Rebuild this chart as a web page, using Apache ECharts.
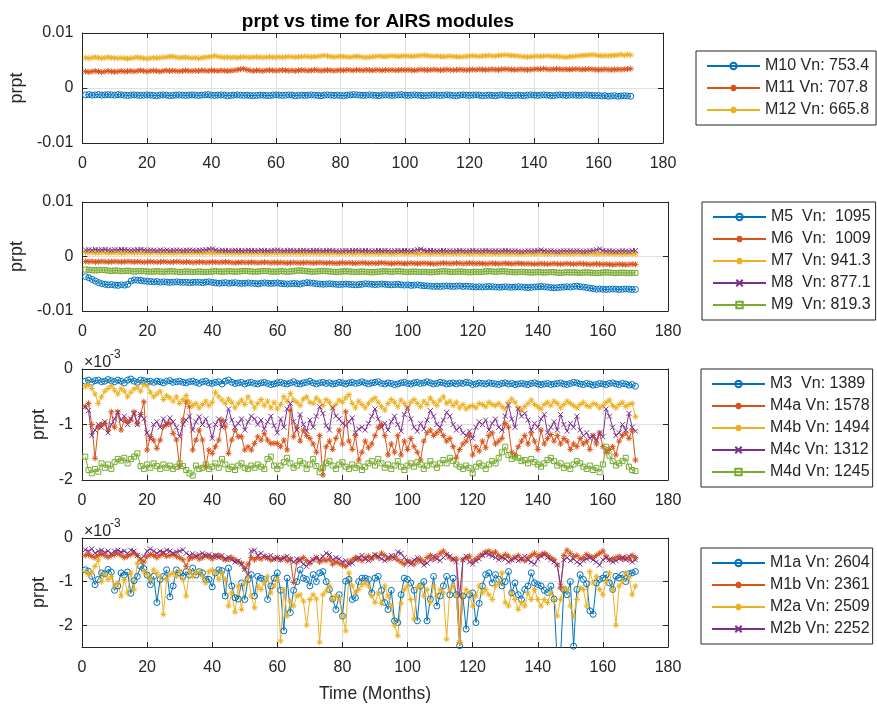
<!DOCTYPE html>
<html>
<head>
<meta charset="utf-8">
<script src="https://cdn.jsdelivr.net/npm/echarts@6/dist/echarts.min.js"></script>
<style>html,body{margin:0;padding:0;background:#fff}#c{width:877px;height:704px}</style>
</head>
<body>
<div id="c"></div>
<script>
// ---- data (values in units of 1e-3 prpt), months 1..170 ----
const months = Array.from({length: 170}, (_, i) => i + 1);
const xTicks = [0, 20, 40, 60, 80, 100, 120, 140, 160, 180];

const m10 = [-1.25,-1.2,-1.3,-1.25,-1.2,-1.3,-1.25,-1.2,-1.25,-1.3,
-1.2,-1.25,-1.3,-1.35,-1.3,-1.25,-1.3,-1.35,-1.3,-1.25,
-1.3,-1.35,-1.4,-1.3,-1.25,-1.3,-1.4,-1.35,-1.3,-1.25,
-1.3,-1.35,-1.3,-1.25,-1.3,-1.35,-1.3,-1.25,-1.2,-1.3,
-1.35,-1.3,-1.25,-1.3,-1.4,-1.35,-1.3,-1.25,-1.3,-1.35,
-1.3,-1.35,-1.4,-1.35,-1.3,-1.3,-1.35,-1.4,-1.3,-1.25,
-1.3,-1.35,-1.3,-1.25,-1.3,-1.4,-1.35,-1.3,-1.35,-1.3,
-1.25,-1.3,-1.35,-1.4,-1.3,-1.25,-1.3,-1.35,-1.3,-1.35,
-1.4,-1.3,-1.25,-1.2,-1.25,-1.3,-1.35,-1.3,-1.25,-1.3,
-1.35,-1.4,-1.3,-1.25,-1.3,-1.35,-1.3,-1.25,-1.2,-1.3,
-1.35,-1.3,-1.25,-1.3,-1.35,-1.4,-1.35,-1.3,-1.25,-1.3,
-1.35,-1.3,-1.25,-1.3,-1.35,-1.4,-1.3,-1.25,-1.3,-1.35,
-1.3,-1.25,-1.3,-1.4,-1.35,-1.3,-1.35,-1.4,-1.3,-1.25,
-1.3,-1.35,-1.4,-1.35,-1.3,-1.35,-1.4,-1.3,-1.25,-1.3,
-1.35,-1.3,-1.25,-1.3,-1.35,-1.4,-1.3,-1.25,-1.3,-1.35,
-1.3,-1.25,-1.3,-1.35,-1.3,-1.25,-1.3,-1.35,-1.4,-1.35,
-1.45,-1.4,-1.5,-1.45,-1.4,-1.5,-1.45,-1.4,-1.45,-1.5];
const m11 = [3.0,2.9,3.0,3.1,3.0,2.9,3.0,3.1,3.0,2.95,
3.0,3.1,3.0,3.05,3.1,3.0,3.1,3.2,3.1,3.0,
3.1,3.15,3.1,3.0,3.1,3.2,3.1,3.15,3.1,3.05,
3.1,3.2,3.1,3.1,3.15,3.1,3.2,3.15,3.1,3.2,
3.15,3.1,3.2,3.15,3.1,3.15,3.2,3.3,3.4,3.5,
3.3,3.2,3.1,3.2,3.15,3.1,3.2,3.25,3.2,3.15,
3.2,3.25,3.2,3.15,3.2,3.1,3.2,3.25,3.2,3.15,
3.2,3.3,3.2,3.15,3.2,3.25,3.2,3.15,3.2,3.25,
3.2,3.3,3.25,3.2,3.3,3.25,3.2,3.3,3.25,3.2,
3.3,3.25,3.2,3.3,3.25,3.3,3.2,3.25,3.3,3.25,
3.3,3.25,3.2,3.3,3.35,3.3,3.25,3.3,3.35,3.3,
3.25,3.3,3.35,3.3,3.25,3.3,3.35,3.3,3.25,3.3,
3.35,3.3,3.4,3.35,3.3,3.35,3.4,3.35,3.3,3.4,
3.45,3.4,3.35,3.3,3.35,3.4,3.35,3.3,3.35,3.4,
3.45,3.4,3.5,3.4,3.35,3.4,3.45,3.4,3.35,3.4,
3.35,3.4,3.45,3.4,3.35,3.4,3.45,3.4,3.35,3.3,
3.35,3.4,3.35,3.3,3.35,3.4,3.35,3.4,3.45,3.5];
const m12 = [5.5,5.4,5.5,5.6,5.5,5.4,5.5,5.6,5.5,5.45,
5.4,5.5,5.4,5.35,5.4,5.5,5.6,5.5,5.4,5.35,
5.4,5.5,5.45,5.5,5.55,5.6,5.7,5.75,5.6,5.5,
5.55,5.6,5.5,5.45,5.5,5.4,5.5,5.6,5.65,5.7,
5.85,5.7,5.6,5.55,5.6,5.55,5.6,5.5,5.6,5.65,
5.6,5.55,5.6,5.65,5.6,5.55,5.6,5.65,5.6,5.6,
5.65,5.6,5.65,5.7,5.65,5.6,5.65,5.7,5.75,5.7,
5.65,5.7,5.75,5.8,5.9,5.8,5.7,5.65,5.7,5.75,
5.7,5.65,5.6,5.7,5.75,5.7,5.6,5.55,5.6,5.7,
5.75,5.8,5.75,5.7,5.8,5.85,5.8,5.75,5.8,5.85,
5.8,5.75,5.8,5.85,5.9,5.95,5.85,5.8,5.75,5.8,
5.75,5.7,5.75,5.8,5.75,5.7,5.65,5.7,5.75,5.8,
5.85,5.8,5.75,5.8,5.85,5.9,5.85,5.8,5.9,5.95,
6.0,5.95,5.9,5.85,5.8,5.75,5.7,5.65,5.7,5.75,
5.8,5.75,5.8,5.85,5.8,5.75,5.8,5.7,5.65,5.6,
5.7,5.75,5.8,5.85,5.9,5.95,6.0,6.05,6.0,5.9,
5.85,5.9,5.85,5.9,5.95,6.0,6.1,5.95,6.05,6.0];

const m5 = [-3.7,-3.9,-4.2,-4.5,-4.8,-5.0,-5.1,-5.2,-5.15,-5.25,
-5.3,-5.2,-5.25,-5.1,-4.5,-4.3,-4.35,-4.4,-4.5,-4.55,
-4.6,-4.65,-4.6,-4.7,-4.65,-4.7,-4.75,-4.7,-4.65,-4.7,
-4.75,-4.7,-4.8,-4.75,-4.7,-4.75,-4.8,-4.7,-4.65,-4.75,
-4.85,-4.9,-4.85,-4.8,-4.9,-4.85,-4.8,-4.9,-4.95,-4.9,
-4.85,-4.9,-4.95,-5.0,-4.9,-4.85,-4.9,-4.95,-4.9,-4.85,
-4.95,-5.0,-5.05,-5.0,-4.95,-5.0,-5.05,-4.9,-4.8,-4.85,
-4.9,-5.0,-5.05,-5.1,-5.05,-5.0,-5.05,-5.1,-5.15,-5.1,
-5.05,-5.1,-5.15,-5.2,-5.15,-5.1,-5.0,-5.05,-5.1,-5.15,
-5.1,-5.05,-5.1,-5.15,-5.2,-5.15,-5.1,-5.2,-5.25,-5.2,
-5.3,-5.25,-5.2,-5.3,-5.35,-5.4,-5.45,-5.5,-5.45,-5.5,
-5.45,-5.4,-5.45,-5.5,-5.45,-5.4,-5.5,-5.45,-5.5,-5.55,
-5.6,-5.55,-5.6,-5.55,-5.5,-5.55,-5.6,-5.65,-5.6,-5.55,
-5.6,-5.65,-5.6,-5.55,-5.6,-5.65,-5.7,-5.65,-5.6,-5.55,
-5.5,-5.55,-5.6,-5.7,-5.75,-5.7,-5.65,-5.6,-5.55,-5.6,
-5.5,-5.45,-5.55,-5.6,-5.7,-5.8,-5.9,-6.0,-5.95,-6.0,
-6.05,-6.0,-5.95,-6.0,-6.05,-6.0,-5.95,-6.0,-6.05,-6.05];
const m6 = [-0.9,-0.95,-0.9,-1.0,-0.95,-0.9,-0.95,-1.0,-0.95,-0.9,
-0.95,-1.0,-0.95,-0.9,-0.95,-1.0,-0.95,-1.0,-1.05,-1.0,
-0.95,-1.0,-1.05,-1.0,-0.95,-1.0,-1.05,-1.0,-0.95,-1.0,
-1.05,-1.0,-1.05,-1.1,-1.05,-1.0,-1.05,-1.1,-1.05,-1.0,
-1.05,-1.1,-1.05,-1.0,-1.05,-1.1,-1.15,-1.1,-1.05,-1.1,
-1.1,-1.05,-1.1,-1.15,-1.1,-1.05,-1.1,-1.15,-1.1,-1.15,
-1.1,-1.15,-1.2,-1.15,-1.1,-1.15,-1.2,-1.15,-1.1,-1.15,
-1.2,-1.15,-1.1,-1.15,-1.2,-1.15,-1.2,-1.25,-1.2,-1.15,
-1.2,-1.15,-1.2,-1.25,-1.2,-1.15,-1.2,-1.25,-1.2,-1.25,
-1.2,-1.15,-1.2,-1.25,-1.3,-1.25,-1.2,-1.25,-1.3,-1.25,
-1.2,-1.25,-1.3,-1.25,-1.2,-1.25,-1.3,-1.35,-1.3,-1.25,
-1.2,-1.25,-1.3,-1.25,-1.2,-1.25,-1.3,-1.25,-1.2,-1.25,
-1.3,-1.25,-1.3,-1.35,-1.3,-1.25,-1.3,-1.35,-1.3,-1.25,
-1.3,-1.35,-1.3,-1.25,-1.3,-1.35,-1.3,-1.35,-1.4,-1.35,
-1.3,-1.35,-1.4,-1.35,-1.3,-1.35,-1.4,-1.35,-1.3,-1.35,
-1.4,-1.35,-1.3,-1.35,-1.4,-1.45,-1.4,-1.35,-1.4,-1.45,
-1.4,-1.45,-1.5,-1.45,-1.4,-1.45,-1.5,-1.45,-1.4,-1.45];
const m7 = [0.7,0.75,0.72,0.68,0.7,0.74,0.7,0.66,0.7,0.72,
0.7,0.66,0.7,0.74,0.7,0.68,0.72,0.7,0.66,0.7,
0.68,0.72,0.7,0.66,0.68,0.7,0.66,0.64,0.68,0.7,
0.66,0.68,0.7,0.65,0.68,0.7,0.66,0.68,0.72,0.7,
0.66,0.64,0.68,0.66,0.62,0.66,0.68,0.64,0.66,0.62,
0.64,0.66,0.62,0.64,0.66,0.62,0.6,0.64,0.66,0.62,
0.64,0.6,0.62,0.66,0.62,0.6,0.64,0.62,0.6,0.62,
0.64,0.6,0.58,0.62,0.6,0.62,0.64,0.6,0.58,0.62,
0.6,0.62,0.58,0.6,0.62,0.6,0.58,0.6,0.62,0.58,
0.6,0.58,0.62,0.6,0.56,0.58,0.6,0.62,0.58,0.56,
0.58,0.6,0.56,0.58,0.6,0.58,0.56,0.6,0.58,0.56,
0.58,0.6,0.56,0.54,0.58,0.56,0.6,0.58,0.54,0.56,
0.58,0.56,0.54,0.56,0.58,0.55,0.56,0.54,0.58,0.56,
0.55,0.56,0.54,0.52,0.56,0.54,0.55,0.56,0.52,0.54,
0.56,0.54,0.52,0.55,0.54,0.52,0.56,0.54,0.52,0.54,
0.52,0.55,0.54,0.52,0.5,0.54,0.52,0.5,0.54,0.52,
0.5,0.52,0.54,0.5,0.52,0.5,0.48,0.52,0.5,0.5];
const m8 = [1.2,1.25,1.15,1.3,1.2,1.25,1.3,1.2,1.15,1.25,
1.2,1.3,1.25,1.2,1.15,1.2,1.25,1.3,1.2,1.15,
1.2,1.15,1.1,1.2,1.15,1.2,1.1,1.15,1.2,1.15,
1.1,1.15,1.2,1.15,1.1,1.15,1.2,1.25,1.35,1.4,
1.2,1.1,1.15,1.1,1.05,1.1,1.15,1.1,1.05,1.1,
1.15,1.1,1.05,1.1,1.15,1.1,1.05,1.1,1.15,1.2,
1.1,1.05,1.1,1.15,1.1,1.05,1.1,1.15,1.1,1.05,
1.1,1.15,1.1,1.05,1.1,1.15,1.1,1.05,1.0,1.05,
1.1,1.05,1.1,1.15,1.1,1.05,1.1,1.05,1.0,1.05,
1.1,1.05,1.1,1.05,1.0,1.05,1.1,1.05,1.1,1.05,
1.0,1.1,1.25,1.35,1.15,1.05,1.1,1.05,1.0,1.05,
1.1,1.0,1.05,1.0,1.05,1.1,1.05,1.0,1.05,1.1,
1.05,1.0,1.05,1.1,1.05,1.0,1.05,1.0,1.05,1.1,
1.05,1.0,1.05,1.0,0.95,1.0,1.05,1.0,1.05,1.1,
1.2,1.05,1.0,1.05,1.0,0.95,1.0,1.05,1.0,1.05,
1.0,1.05,1.0,0.95,1.0,1.05,1.1,1.25,1.4,1.1,
1.0,1.05,1.0,0.95,1.0,1.05,1.0,0.95,1.05,1.1];
const m9 = [-2.4,-2.45,-2.5,-2.55,-2.5,-2.45,-2.5,-2.6,-2.65,-2.55,
-2.6,-2.7,-2.65,-2.6,-2.7,-2.75,-2.7,-2.65,-2.7,-2.75,
-2.8,-2.75,-2.7,-2.75,-2.8,-2.75,-2.7,-2.75,-2.8,-2.85,
-2.8,-2.75,-2.8,-2.85,-2.8,-2.75,-2.8,-2.85,-2.8,-2.75,
-2.7,-2.75,-2.8,-2.75,-2.7,-2.75,-2.8,-2.75,-2.7,-2.65,
-2.7,-2.75,-2.8,-2.75,-2.7,-2.65,-2.7,-2.75,-2.8,-2.75,
-2.7,-2.75,-2.8,-2.75,-2.7,-2.6,-2.55,-2.65,-2.7,-2.75,
-2.8,-2.75,-2.7,-2.65,-2.7,-2.75,-2.8,-2.85,-2.8,-2.75,
-2.7,-2.75,-2.8,-2.85,-2.8,-2.75,-2.8,-2.85,-2.9,-2.85,
-2.8,-2.75,-2.7,-2.75,-2.8,-2.75,-2.7,-2.75,-2.8,-2.85,
-2.8,-2.75,-2.8,-2.85,-2.8,-2.85,-2.9,-2.85,-2.8,-2.75,
-2.7,-2.75,-2.8,-2.85,-2.8,-2.75,-2.8,-2.85,-2.9,-2.85,
-2.8,-2.85,-2.8,-2.75,-2.7,-2.75,-2.8,-2.75,-2.7,-2.75,
-2.8,-2.85,-2.9,-2.85,-2.8,-2.85,-2.9,-2.95,-2.9,-2.85,
-2.9,-2.95,-2.9,-2.85,-2.9,-2.95,-3.0,-2.95,-2.9,-2.95,
-2.9,-2.95,-3.0,-2.95,-2.9,-2.95,-3.0,-3.05,-3.0,-2.95,
-2.9,-2.95,-3.0,-3.05,-3.0,-2.95,-3.0,-3.05,-3.0,-3.0];

const m3 = [-0.22,-0.2,-0.24,-0.21,-0.2,-0.23,-0.22,-0.19,-0.21,-0.23,
-0.2,-0.22,-0.25,-0.2,-0.18,-0.22,-0.24,-0.2,-0.21,-0.23,
-0.22,-0.24,-0.22,-0.23,-0.25,-0.22,-0.21,-0.24,-0.23,-0.22,
-0.24,-0.25,-0.23,-0.22,-0.24,-0.26,-0.23,-0.22,-0.25,-0.26,
-0.24,-0.23,-0.27,-0.22,-0.2,-0.24,-0.26,-0.25,-0.24,-0.27,
-0.25,-0.24,-0.26,-0.27,-0.25,-0.24,-0.26,-0.28,-0.27,-0.25,
-0.24,-0.26,-0.27,-0.25,-0.23,-0.26,-0.27,-0.25,-0.24,-0.22,
-0.25,-0.27,-0.25,-0.24,-0.26,-0.25,-0.27,-0.26,-0.24,-0.25,
-0.27,-0.25,-0.24,-0.26,-0.25,-0.23,-0.25,-0.27,-0.25,-0.24,
-0.23,-0.26,-0.27,-0.25,-0.26,-0.28,-0.27,-0.25,-0.24,-0.26,
-0.27,-0.25,-0.24,-0.26,-0.25,-0.23,-0.25,-0.27,-0.26,-0.24,
-0.25,-0.27,-0.26,-0.25,-0.27,-0.25,-0.26,-0.24,-0.25,-0.28,
-0.27,-0.25,-0.26,-0.27,-0.25,-0.26,-0.27,-0.28,-0.26,-0.25,
-0.27,-0.26,-0.28,-0.27,-0.26,-0.27,-0.28,-0.26,-0.25,-0.27,
-0.28,-0.27,-0.26,-0.28,-0.27,-0.26,-0.25,-0.27,-0.28,-0.26,
-0.24,-0.25,-0.27,-0.28,-0.26,-0.27,-0.29,-0.28,-0.26,-0.27,
-0.28,-0.26,-0.25,-0.27,-0.28,-0.26,-0.27,-0.29,-0.28,-0.31];
const m4a = [-0.68,-0.62,-1.0,-1.61,-1.05,-1.0,-0.98,-1.1,-0.77,-1.05,
-0.77,-1.1,-0.92,-0.95,-0.92,-0.77,-0.98,-0.82,-0.59,-1.46,
-1.22,-1.28,-1.43,-1.28,-1.04,-1.0,-0.98,-1.16,-1.28,-1.76,
-0.92,-0.59,-0.68,-1.46,-1.28,-1.1,-1.28,-1.76,-1.46,-1.52,
-1.4,-1.28,-0.92,-1.04,-1.52,-1.28,-1.1,-1.22,-1.22,-1.46,
-1.4,-1.46,-1.34,-1.22,-1.28,-1.16,-1.28,-1.34,-1.34,-1.34,
-1.4,-1.28,-1.46,-0.74,-1.22,-1.05,-1.3,-1.1,-1.2,-1.25,
-1.35,-1.5,-1.2,-1.91,-1.4,-1.3,-1.45,-1.25,-1.1,-1.35,
-0.77,-1.3,-1.45,-1.2,-1.64,-1.5,-1.3,-1.42,-1.35,-1.2,
-1.05,-1.0,-1.2,-1.55,-1.35,-1.5,-1.2,-1.55,-1.3,-1.45,
-1.25,-1.4,-1.5,-1.64,-1.3,-1.15,-1.1,-1.2,-1.15,-1.1,
-1.2,-1.3,-1.25,-1.4,-1.6,-1.45,-1.35,-1.3,-1.2,-1.55,
-1.4,-1.48,-1.3,-1.42,-1.2,-1.15,-1.35,-1.3,-1.25,-0.98,
-1.05,-1.5,-1.55,-1.4,-1.3,-1.2,-1.35,-1.15,-1.3,-1.45,
-1.1,-1.35,-1.25,-1.18,-1.3,-1.2,-1.35,-1.25,-1.3,-1.45,
-1.35,-1.4,-1.25,-1.35,-1.3,-1.45,-1.2,-1.35,-1.15,-1.4,
-1.5,-1.45,-1.4,-1.55,-1.3,-1.2,-1.15,-1.25,-1.1,-1.64];
const m4b = [-0.32,-0.28,-0.35,-0.45,-0.62,-0.5,-0.4,-0.35,-0.3,-0.38,
-0.45,-0.35,-0.4,-0.5,-0.42,-0.36,-0.33,-0.4,-0.28,-0.3,
-0.42,-0.5,-0.45,-0.4,-0.55,-0.48,-0.52,-0.58,-0.5,-0.62,
-0.55,-0.48,-0.6,-0.66,-0.62,-0.7,-0.64,-0.58,-0.66,-0.6,
-0.42,-0.5,-0.56,-0.62,-0.54,-0.6,-0.7,-0.62,-0.56,-0.64,
-0.5,-0.6,-0.7,-0.62,-0.55,-0.66,-0.58,-0.7,-0.6,-0.72,
-0.64,-0.5,-0.58,-0.44,-0.56,-0.6,-0.66,-0.54,-0.5,-0.6,
-0.62,-0.52,-0.58,-0.66,-0.55,-0.6,-0.7,-0.64,-0.56,-0.6,
-0.52,-0.46,-0.62,-0.7,-0.58,-0.64,-0.7,-0.62,-0.56,-0.52,
-0.6,-0.68,-0.74,-0.62,-0.55,-0.6,-0.68,-0.56,-0.62,-0.7,
-0.6,-0.55,-0.62,-0.68,-0.58,-0.64,-0.52,-0.6,-0.66,-0.56,
-0.5,-0.62,-0.58,-0.66,-0.6,-0.7,-0.64,-0.72,-0.68,-0.66,
-0.7,-0.62,-0.64,-0.68,-0.6,-0.64,-0.66,-0.62,-0.68,-0.72,
-0.6,-0.54,-0.6,-0.7,-0.74,-0.68,-0.62,-0.56,-0.64,-0.68,
-0.72,-0.64,-0.6,-0.66,-0.58,-0.62,-0.7,-0.64,-0.58,-0.62,
-0.66,-0.7,-0.64,-0.6,-0.66,-0.68,-0.62,-0.64,-0.7,-0.66,
-0.6,-0.56,-0.66,-0.7,-0.64,-0.6,-0.68,-0.64,-0.62,-0.86];
const m4c = [-0.68,-0.75,-1.2,-1.1,-1.0,-1.05,-0.95,-1.15,-1.0,-0.9,
-0.78,-0.92,-0.85,-1.0,-0.9,-0.8,-1.0,-0.82,-0.9,-1.15,
-1.25,-1.0,-0.95,-1.05,-0.9,-1.0,-0.88,-0.95,-1.05,-1.22,
-1.0,-0.92,-0.85,-1.1,-0.95,-0.86,-1.0,-0.9,-1.02,-1.25,
-1.0,-0.9,-1.05,-0.95,-0.72,-0.92,-1.05,-0.98,-0.9,-1.1,
-0.95,-0.85,-0.9,-1.0,-0.92,-1.08,-0.95,-0.85,-1.02,-1.15,
-0.9,-1.05,-0.72,-0.62,-0.95,-1.1,-0.82,-1.0,-1.12,-0.92,
-1.05,-0.85,-0.68,-0.8,-1.02,-1.1,-0.7,-0.85,-0.9,-0.98,
-1.02,-0.95,-0.88,-1.15,-1.08,-1.05,-1.1,-0.98,-0.85,-0.72,
-0.9,-1.05,-0.98,-1.1,-0.95,-0.85,-1.0,-1.12,-0.82,-0.7,
-0.9,-1.05,-1.12,-0.98,-1.08,-0.92,-0.75,-0.85,-1.0,-1.05,
-0.92,-0.78,-0.85,-1.0,-1.1,-1.05,-1.15,-1.2,-1.12,-1.25,
-1.05,-0.95,-1.0,-0.92,-1.1,-0.98,-0.9,-1.05,-1.1,-0.85,
-0.65,-0.9,-1.05,-0.72,-0.85,-0.8,-0.92,-1.1,-0.98,-1.05,
-0.9,-0.82,-1.15,-1.05,-0.95,-1.1,-0.82,-1.0,-1.12,-0.98,
-1.05,-0.85,-1.1,-1.2,-1.15,-1.25,-1.2,-1.28,-1.15,-1.22,
-0.72,-0.85,-1.05,-1.2,-1.15,-1.0,-1.1,-0.8,-1.05,-1.12];
const m4d = [-1.58,-1.82,-1.88,-1.8,-1.85,-1.7,-1.78,-1.72,-1.8,-1.68,
-1.62,-1.65,-1.6,-1.7,-1.62,-1.58,-1.52,-1.75,-1.8,-1.72,
-1.78,-1.7,-1.75,-1.8,-1.72,-1.78,-1.74,-1.8,-1.76,-1.7,
-1.75,-1.82,-1.88,-1.92,-1.74,-1.8,-1.78,-1.72,-1.8,-1.76,
-1.7,-1.78,-1.62,-1.72,-1.8,-1.76,-1.82,-1.74,-1.7,-1.78,
-1.8,-1.74,-1.78,-1.72,-1.76,-1.8,-1.62,-1.58,-1.74,-1.8,
-1.74,-1.68,-1.6,-1.7,-1.78,-1.74,-1.66,-1.7,-1.8,-1.72,
-1.62,-1.75,-1.86,-1.78,-1.7,-1.66,-1.74,-1.8,-1.72,-1.68,
-1.76,-1.8,-1.72,-1.78,-1.74,-1.82,-1.76,-1.7,-1.66,-1.74,
-1.62,-1.7,-1.78,-1.72,-1.8,-1.74,-1.66,-1.76,-1.82,-1.74,
-1.7,-1.76,-1.68,-1.72,-1.8,-1.74,-1.66,-1.72,-1.78,-1.7,
-1.64,-1.7,-1.6,-1.66,-1.72,-1.76,-1.8,-1.74,-1.78,-1.88,
-1.76,-1.7,-1.74,-1.8,-1.72,-1.66,-1.7,-1.6,-1.5,-1.4,
-1.55,-1.62,-1.58,-1.6,-1.66,-1.64,-1.7,-1.62,-1.68,-1.72,
-1.76,-1.7,-1.64,-1.6,-1.66,-1.74,-1.7,-1.78,-1.74,-1.8,
-1.72,-1.66,-1.7,-1.76,-1.8,-1.74,-1.82,-1.78,-1.86,-1.72,
-1.4,-1.56,-1.66,-1.74,-1.7,-1.66,-1.6,-1.76,-1.82,-1.84];

const m1a = [-0.73,-0.76,-0.88,-1.07,-0.95,-0.8,-0.82,-0.72,-0.78,-1.2,
-1.1,-0.8,-0.85,-0.78,-1.27,-0.98,-0.88,-0.65,-0.7,-0.85,
-1.07,-0.88,-1.48,-0.95,-0.88,-0.73,-1.35,-1.1,-0.73,-0.8,
-0.88,-0.77,-0.85,-0.69,-0.85,-0.77,-0.8,-0.95,-0.95,-1.12,
-0.8,-0.73,-0.75,-1.33,-0.69,-1.1,-1.37,-1.4,-1.03,-1.41,
-0.95,-0.84,-1.33,-0.88,-0.92,-0.95,-1.41,-1.1,-0.92,-0.8,
-1.2,-2.13,-0.92,-1.71,-1.2,-1.0,-0.73,-0.92,-0.95,-1.1,
-0.84,-1.0,-0.8,-0.77,-1.0,-1.18,-1.4,-1.64,-1.3,-1.79,
-0.99,-0.95,-1.41,-1.37,-1.0,-0.92,-0.92,-0.95,-1.26,-0.92,
-0.88,-1.2,-1.48,-1.64,-1.2,-1.9,-1.94,-1.3,-0.92,-0.95,
-1.03,-1.2,-1.9,-1.1,-1.0,-1.9,-1.4,-0.88,-1.56,-1.33,
-1.1,-0.88,-1.3,-0.92,-1.3,-2.47,-1.33,-2.09,-1.3,-1.26,
-1.94,-1.5,-1.1,-0.84,-0.8,-1.03,-0.84,-0.95,-1.1,-1.0,
-0.77,-1.26,-1.03,-1.3,-1.41,-1.18,-1.1,-0.8,-1.03,-1.07,
-1.1,-1.2,-1.25,-1.1,-1.4,-2.9,-2.7,-1.18,-1.3,-1.0,
-2.48,-1.18,-0.84,-0.95,-1.05,-1.67,-1.75,-1.03,-0.95,-0.92,
-0.84,-1.03,-1.18,-0.88,-0.92,-0.84,-1.0,-0.82,-0.8,-0.77];
const m1b = [-0.4,-0.38,-0.42,-0.45,-0.4,-0.36,-0.4,-0.44,-0.4,-0.38,
-0.35,-0.4,-0.45,-0.42,-0.38,-0.35,-0.4,-0.5,-0.55,-0.42,
-0.38,-0.4,-0.45,-0.4,-0.36,-0.42,-0.4,-0.38,-0.42,-0.45,
-0.5,-0.65,-0.48,-0.45,-0.42,-0.48,-0.45,-0.4,-0.44,-0.48,
-0.42,-0.4,-0.45,-0.5,-0.48,-0.45,-0.5,-0.55,-0.58,-0.7,
-0.6,-0.45,-0.5,-0.45,-0.48,-0.42,-0.46,-0.5,-0.48,-0.45,
-0.5,-0.45,-0.52,-0.48,-1.02,-0.55,-0.5,-0.45,-0.52,-0.58,
-0.5,-0.45,-0.55,-0.5,-0.52,-0.48,-0.6,-0.55,-0.58,-0.62,
-0.65,-0.55,-0.5,-0.45,-0.48,-0.52,-0.45,-0.42,-0.48,-0.4,
-0.45,-0.35,-0.4,-0.48,-0.45,-0.42,-0.5,-0.55,-0.6,-0.52,
-0.55,-0.6,-0.52,-0.48,-0.55,-0.45,-0.4,-0.48,-0.42,-0.35,
-0.3,-0.38,-0.45,-0.5,-0.48,-2.4,-0.5,-0.45,-0.42,-0.55,
-0.48,-0.42,-0.38,-0.32,-0.3,-0.35,-0.32,-0.4,-0.45,-0.38,
-0.42,-0.5,-0.45,-0.4,-0.48,-0.52,-0.45,-0.4,-0.35,-0.42,
-0.38,-0.35,-0.4,-0.45,-0.5,-0.62,-1.15,-0.4,-0.28,-0.35,
-0.42,-0.4,-0.48,-0.45,-0.38,-0.42,-0.45,-0.4,-0.35,-0.3,
-0.42,-0.5,-0.48,-0.45,-0.42,-0.48,-0.45,-0.5,-0.4,-0.45];
const m2a = [-0.77,-0.84,-0.8,-0.65,-0.5,-1.0,-0.84,-0.95,-0.88,-1.1,
-1.03,-1.33,-0.95,-1.26,-0.8,-1.18,-0.58,-0.48,-0.77,-0.84,
-0.95,-0.73,-0.8,-0.88,-1.75,-0.95,-0.84,-0.8,-0.88,-0.77,
-0.95,-1.33,-0.77,-0.88,-0.8,-0.77,-0.88,-1.03,-0.77,-0.73,
-0.8,-0.95,-0.8,-0.95,-1.56,-1.26,-1.7,-1.1,-1.64,-1.03,
-0.88,-1.33,-1.6,-1.1,-1.18,-1.03,-0.88,-1.26,-1.1,-0.95,
-2.36,-1.18,-1.79,-1.45,-1.56,-1.33,-1.3,-1.45,-2.0,-1.41,
-1.3,-1.4,-2.39,-1.3,-1.22,-1.1,-1.41,-1.33,-1.4,-1.79,
-2.13,-0.8,-1.1,-1.26,-1.18,-1.07,-1.03,-1.1,-1.33,-1.48,
-1.26,-1.5,-1.1,-1.33,-1.56,-2.0,-2.24,-1.5,-1.18,-1.1,
-1.41,-1.86,-1.14,-1.1,-1.33,-1.18,-1.48,-1.1,-1.33,-1.18,
-1.26,-2.32,-1.18,-1.1,-1.33,-2.39,-1.33,-1.18,-1.26,-1.56,
-1.33,-1.1,-1.26,-1.18,-1.3,-1.41,-1.1,-1.03,-0.8,-1.48,
-1.56,-1.26,-1.41,-1.64,-1.48,-1.56,-1.26,-1.41,-1.18,-1.41,
-1.56,-1.41,-1.48,-1.26,-1.41,-1.79,-1.41,-1.14,-1.18,-1.56,
-1.79,-1.41,-1.14,-1.18,-1.56,-0.77,-1.03,-0.88,-1.18,-1.3,
-1.0,-0.8,-1.18,-2.0,-1.1,-1.0,-0.8,-0.9,-1.3,-1.1];
const m2b = [-0.27,-0.3,-0.25,-0.35,-0.3,-0.28,-0.33,-0.3,-0.36,-0.3,
-0.28,-0.32,-0.3,-0.35,-0.28,-0.3,-0.4,-0.48,-0.42,-0.3,
-0.25,-0.3,-0.35,-0.3,-0.33,-0.28,-0.3,-0.35,-0.32,-0.3,
-0.27,-0.35,-0.4,-0.36,-0.42,-0.38,-0.35,-0.4,-0.38,-0.42,
-0.4,-0.45,-0.4,-0.48,-0.44,-0.5,-0.55,-0.52,-0.6,-0.72,
-0.84,-0.3,-0.28,-0.4,-0.35,-0.42,-0.45,-0.4,-0.48,-0.45,
-0.5,-0.46,-0.42,-0.5,-0.55,-0.48,-0.5,-0.6,-0.65,-0.55,
-0.5,-0.45,-0.5,-0.42,-0.35,-0.38,-0.5,-0.45,-0.48,-0.55,
-0.52,-0.6,-0.58,-0.5,-0.45,-0.4,-0.48,-0.52,-0.45,-0.38,
-0.42,-0.48,-0.52,-0.45,-0.4,-0.48,-0.32,-0.35,-0.45,-0.55,
-0.6,-0.5,-0.45,-0.55,-0.62,-0.58,-0.5,-0.42,-0.48,-0.52,
-0.45,-0.38,-0.42,-0.48,-0.55,-1.33,-0.5,-0.42,-0.55,-0.6,
-0.52,-0.48,-0.4,-0.35,-0.38,-0.42,-0.45,-0.5,-0.44,-0.48,
-0.55,-0.5,-0.45,-0.52,-0.48,-0.42,-0.5,-0.55,-0.6,-0.48,
-0.42,-0.38,-0.45,-0.5,-0.55,-0.62,-1.1,-0.5,-0.45,-0.52,
-0.48,-0.55,-0.6,-0.52,-0.48,-0.45,-0.5,-0.55,-0.62,-0.5,
-0.45,-0.5,-0.55,-0.52,-0.48,-0.45,-0.5,-0.42,-0.55,-0.5];

// ---- styling ----
const FONT = '"Liberation Sans", Arial, Helvetica, sans-serif';
const TXT = '#262626';
const GRIDC = '#e0e0e0';
const COL = {b: '#0072BD', o: '#D95319', y: '#EDB120', p: '#7E2F8E', g: '#77AC30'};
const SYM = {
  circ: 'path://M0,5A5,5,0,1,1,10,5A5,5,0,1,1,0,5Z',
  star: 'path://M5,0L5,10M0,5L10,5M1.5,1.5L8.5,8.5M8.5,1.5L1.5,8.5',
  x: 'path://M0,0L10,10M10,0L0,10',
  sq: 'path://M0,0L10,0L10,10L0,10Z'
};
const SIZE = {circ: 6, star: 6, x: 5, sq: 5};

const panels = [
  {top: 33, width: 581, height: 110, min: -10, max: 10, interval: 10, ticks: null, k: false,
   legend: {left: 696, top: 51, padding: [7, 7, 7, 10]},
   series: [['M10 Vn: 753.4', m10, 'b', 'circ'], ['M11 Vn: 707.8', m11, 'o', 'star'], ['M12 Vn: 665.8', m12, 'y', 'star']]},
  {top: 202, width: 586, height: 109, min: -10, max: 10, interval: 10, ticks: null, k: false,
   legend: {left: 702, top: 202, padding: [7, 5, 7, 10]},
   series: [['M5  Vn:  1095', m5, 'b', 'circ'], ['M6  Vn:  1009', m6, 'o', 'star'], ['M7  Vn: 941.3', m7, 'y', 'star'],
            ['M8  Vn: 877.1', m8, 'p', 'x'], ['M9  Vn: 819.3', m9, 'g', 'sq']]},
  {top: 369, width: 586, height: 111, min: -2, max: 0, interval: 1, ticks: null, k: true,
   legend: {left: 701, top: 369, padding: [7, 3, 7, 10]},
   series: [['M3  Vn: 1389', m3, 'b', 'circ'], ['M4a Vn: 1578', m4a, 'o', 'star'], ['M4b Vn: 1494', m4b, 'y', 'star'],
            ['M4c Vn: 1312', m4c, 'p', 'x'], ['M4d Vn: 1245', m4d, 'g', 'sq']]},
  {top: 538, width: 586, height: 110, min: -2.5, max: 0, interval: null, ticks: [-2, -1, 0], k: true,
   legend: {left: 701, top: 548, padding: [7, 3, 7, 10]},
   series: [['M1a Vn: 2604', m1a, 'b', 'circ'], ['M1b Vn: 2361', m1b, 'o', 'star'], ['M2a Vn: 2509', m2a, 'y', 'star'],
            ['M2b Vn: 2252', m2b, 'p', 'x']]}
];

const grid = [], xAxis = [], yAxis = [], series = [], legend = [], graphic = [];
panels.forEach((p, g) => {
  grid.push({left: 82, top: p.top, width: p.width, height: p.height, containLabel: false});
  const tick = {show: true, inside: true, length: 5, lineStyle: {color: TXT, width: 1}};
  const line = {show: true, onZero: false, lineStyle: {color: TXT, width: 1}};
  xAxis.push({type: 'value', gridIndex: g, position: 'bottom', min: 0, max: 180, interval: 20,
    axisLine: line, axisTick: tick,
    axisLabel: {color: TXT, fontSize: 16, fontFamily: FONT, margin: 13, showMinLabel: true, showMaxLabel: true},
    splitLine: {show: true, lineStyle: {color: GRIDC, width: 1}},
    name: g === 3 ? 'Time (Months)' : '', nameLocation: 'middle', nameGap: 38,
    nameTextStyle: {color: TXT, fontSize: 17.5, fontFamily: FONT}});
  xAxis.push({type: 'value', gridIndex: g, position: 'top', min: 0, max: 180, interval: 20,
    axisLine: line, axisTick: tick, axisLabel: {show: false}, splitLine: {show: false}});
  const yBase = {type: 'value', gridIndex: g, min: p.min, max: p.max};
  if (p.interval) yBase.interval = p.interval;
  const yTick = Object.assign({}, tick);
  const yLab = {color: TXT, fontSize: 16, fontFamily: FONT, margin: 9, showMinLabel: true, showMaxLabel: true,
    formatter: v => p.k ? String(v) : (v === 0 ? '0' : String(v / 1000))};
  if (p.ticks) { yTick.customValues = p.ticks; yLab.customValues = p.ticks; }
  yAxis.push(Object.assign({}, yBase, {position: 'left', axisLine: line, axisTick: yTick, axisLabel: yLab,
    splitLine: {show: true, lineStyle: {color: GRIDC, width: 1}},
    name: 'prpt', nameLocation: 'middle', nameGap: p.k ? 28 : 51,
    nameTextStyle: {color: TXT, fontSize: 18, fontFamily: FONT}}));
  yAxis.push(Object.assign({}, yBase, {position: 'right', axisLine: line, axisTick: Object.assign({}, yTick),
    axisLabel: {show: false}, splitLine: {show: false}}));

  const names = [];
  p.series.forEach(([name, vals, c, s]) => {
    names.push(name);
    const filled = (s === 'star' || s === 'x');
    series.push({
      name, type: 'line', xAxisIndex: 2 * g, yAxisIndex: 2 * g,
      data: months.map((m, i) => [m, vals[i]]),
      symbol: SYM[s], symbolSize: SIZE[s], showSymbol: true, clip: true,
      lineStyle: {color: COL[c], width: 1},
      itemStyle: {color: filled ? COL[c] : 'rgba(0,0,0,0)', borderColor: COL[c], borderWidth: 1},
      emphasis: {disabled: true}, animation: false
    });
  });
  legend.push(Object.assign({
    data: names, orient: 'vertical', itemWidth: 53, itemHeight: 8, itemGap: 6,
    textStyle: {color: TXT, fontSize: 16, lineHeight: 16, fontFamily: FONT},
    borderColor: TXT, borderWidth: 1, backgroundColor: '#fff', selectedMode: false, borderRadius: 0
  }, p.legend));

  if (p.k) {
    graphic.push({type: 'text', left: 84, top: p.top - 14, style: {text: '×10', font: '16px ' + FONT, fill: TXT}});
    graphic.push({type: 'text', left: 110, top: p.top - 20, style: {text: '-3', font: '12px ' + FONT, fill: TXT}});
  }
});

const chart = echarts.init(document.getElementById('c'), null, {renderer: 'canvas'});
chart.setOption({
  animation: false,
  backgroundColor: '#fff',
  textStyle: {fontFamily: FONT},
  title: {text: 'prpt vs time for AIRS modules', left: 373, top: 7, textAlign: 'center',
    textStyle: {fontSize: 19, fontWeight: 'bold', color: '#000', fontFamily: FONT}},
  grid, xAxis, yAxis, series, legend, graphic
});
</script>
</body>
</html>
